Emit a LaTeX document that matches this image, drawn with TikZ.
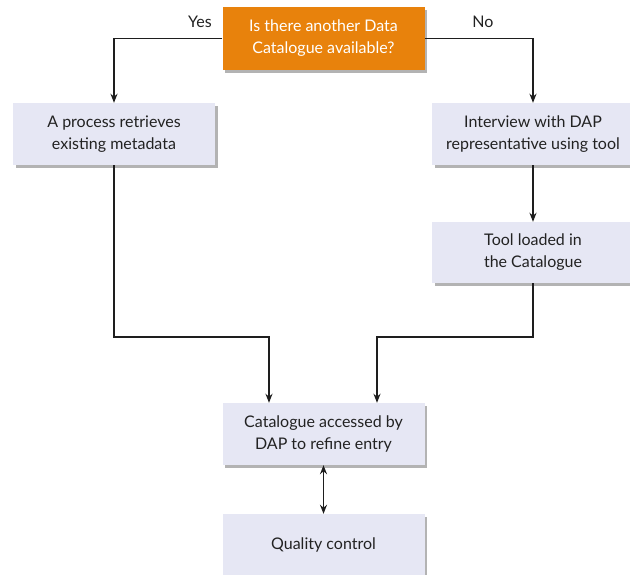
\documentclass[tikz,border=0pt]{standalone}
\usepackage{fontspec}
\setmainfont{Lato}
\usetikzlibrary{arrows.meta,shadows}
\definecolor{boxfill}{HTML}{E6E7F4}
\definecolor{orangefill}{HTML}{E8820C}
\definecolor{linec}{HTML}{1E1E1E}
\definecolor{textc}{HTML}{222222}
\tikzset{
  stepbox/.style={rectangle, fill=boxfill, minimum width=202pt, minimum height=62pt,
    inner sep=0pt, align=center, text=textc, font=\fontsize{16}{22}\selectfont,
    drop shadow={shadow xshift=2.5pt, shadow yshift=-3pt, fill=black!50, opacity=0.6}},
  qbox/.style={stepbox, fill=orangefill, text=white},
  tip/.style={Stealth[length=9pt,width=7pt]},
  conn/.style={draw=linec, line width=1.8pt, -{Stealth[length=9pt,width=7pt]}},
  biconn/.style={draw=linec, line width=1.8pt, {Stealth[length=9pt,width=7pt]}-{Stealth[length=9pt,width=7pt]}},
  lbl/.style={font=\fontsize{16}{18}\selectfont, text=textc, inner sep=0pt}
}
\begin{document}
\begin{tikzpicture}[x=1pt,y=-1pt]
\useasboundingbox (0,0) rectangle (630,574);
\node[qbox, minimum height=63pt] (q) at (323.5,38.5) {Is there another Data\\Catalogue available?};
\node[stepbox] (a) at (114,134) {A process retrieves\\existing metadata};
\node[stepbox] (b) at (533,134) {Interview with DAP\\representative using tool};
\node[stepbox, minimum height=61pt] (c) at (533,252.5) {Tool loaded in\\the Catalogue};
\node[stepbox] (d) at (323.5,434) {Catalogue accessed by\\DAP to refine entry};
\node[stepbox] (e) at (323.5,545) {Quality control};
\node[lbl, anchor=east] (yes) at (212,22) {Yes};
\node[lbl, anchor=center] (no) at (483,22) {No};
\coordinate (ml) at (269,337);
\coordinate (mr) at (377,337);
\draw[conn] (q.west) -| (a.north);
\draw[conn] (q.east) -| (b.north);
\draw[conn] (b.south) -- (c.north);
\draw[conn] (a.south) |- (ml) -- (ml |- d.north);
\draw[conn] (c.south) |- (mr) -- (mr |- d.north);
\draw[biconn] (d.south) -- (e.north);
\end{tikzpicture}
\end{document}
